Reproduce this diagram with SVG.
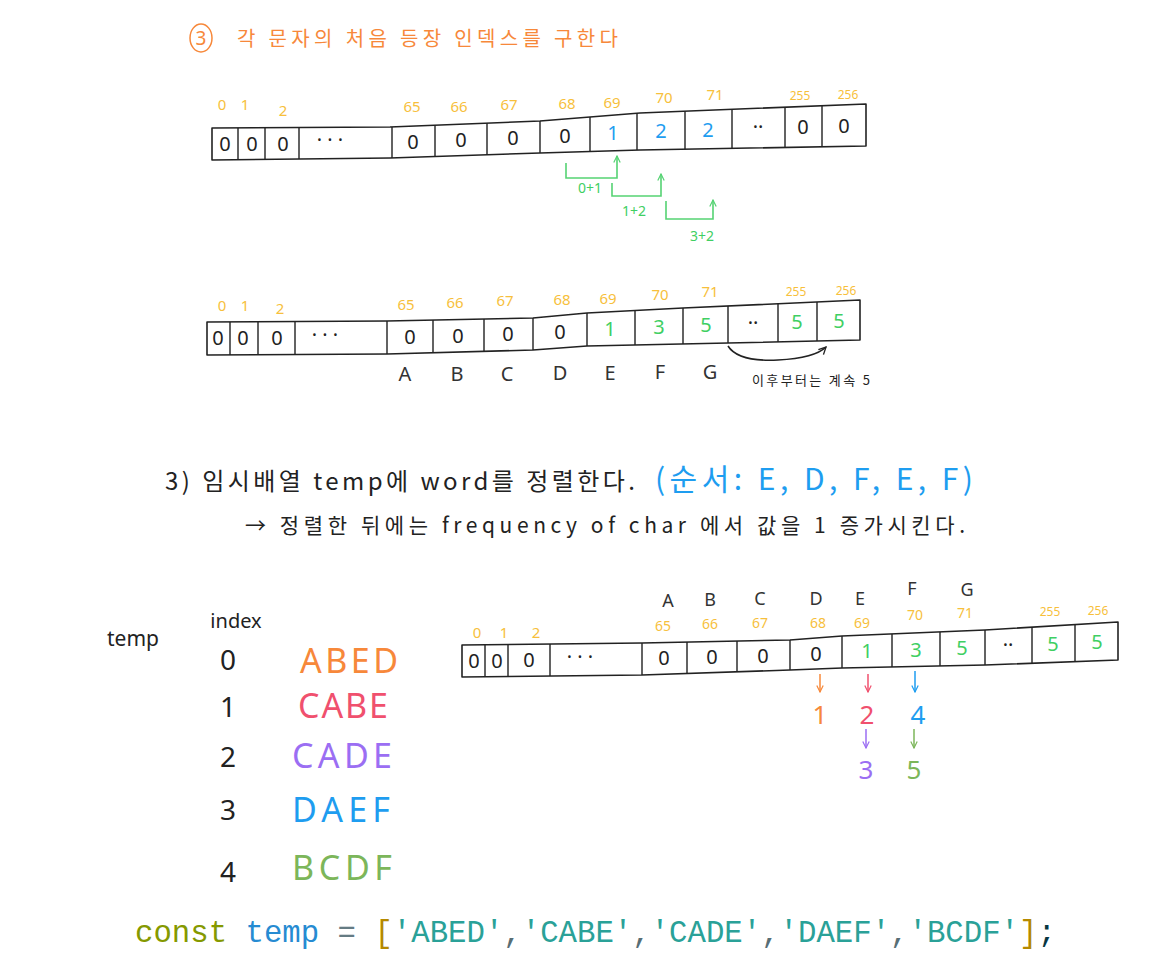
<svg xmlns="http://www.w3.org/2000/svg" width="1162" height="980" viewBox="0 0 1162 980">
<style>
text{font-family:"Noto Sans","Noto Sans CJK KR",sans-serif;}
.ko{font-family:"Noto Sans CJK KR","Noto Sans",sans-serif;}
.arr{fill:none;stroke:#222;stroke-width:1.6;stroke-linejoin:round;}
.div{stroke:#222;stroke-width:1.4;}
.cell{font-size:20px;fill:#222;text-anchor:middle;}
.idx{font-size:15px;fill:#f7bf3c;text-anchor:middle;}
.idx3{font-size:14px;}
.sm{font-size:12px;}
.let{font-size:20px;fill:#333;text-anchor:middle;}
.let3{font-size:18px;}
.g{fill:#3fcf63;}
.b{fill:#1e9df0;}
.gl{fill:none;stroke:#55d373;stroke-width:1.6;}
.code{font-family:"Liberation Mono",monospace;font-size:30.7px;}
.word{font-size:34px;}
</style>
<defs>
<marker id="mg" viewBox="0 0 10 10" refX="9" refY="5" markerWidth="8" markerHeight="8" orient="auto" markerUnits="userSpaceOnUse"><path d="M1,1 L9,5 L1,9" fill="none" stroke="#55d373" stroke-width="1.5"/></marker>
<marker id="mk" viewBox="0 0 10 10" refX="9" refY="5" markerWidth="9" markerHeight="9" orient="auto" markerUnits="userSpaceOnUse"><path d="M1,1 L9,5 L1,9" fill="none" stroke="#222" stroke-width="1.5"/></marker>
<marker id="mo" viewBox="0 0 10 10" refX="9" refY="5" markerWidth="8" markerHeight="8" orient="auto" markerUnits="userSpaceOnUse"><path d="M1,1 L9,5 L1,9" fill="none" stroke="#f7883a" stroke-width="1.5"/></marker>
<marker id="mr" viewBox="0 0 10 10" refX="9" refY="5" markerWidth="8" markerHeight="8" orient="auto" markerUnits="userSpaceOnUse"><path d="M1,1 L9,5 L1,9" fill="none" stroke="#f0506e" stroke-width="1.5"/></marker>
<marker id="mb" viewBox="0 0 10 10" refX="9" refY="5" markerWidth="8" markerHeight="8" orient="auto" markerUnits="userSpaceOnUse"><path d="M1,1 L9,5 L1,9" fill="none" stroke="#1e9df0" stroke-width="1.5"/></marker>
<marker id="mp" viewBox="0 0 10 10" refX="9" refY="5" markerWidth="8" markerHeight="8" orient="auto" markerUnits="userSpaceOnUse"><path d="M1,1 L9,5 L1,9" fill="none" stroke="#9b6ef3" stroke-width="1.5"/></marker>
<marker id="mv" viewBox="0 0 10 10" refX="9" refY="5" markerWidth="8" markerHeight="8" orient="auto" markerUnits="userSpaceOnUse"><path d="M1,1 L9,5 L1,9" fill="none" stroke="#7cb65a" stroke-width="1.5"/></marker>
</defs>
<rect width="1162" height="980" fill="#fff"/>

<g id="title">
<ellipse cx="201" cy="38" rx="11" ry="14" fill="none" stroke="#f7883a" stroke-width="1.5"/>
<text x="201" y="45" font-size="19" fill="#f7883a" text-anchor="middle">3</text>
<text class="ko" x="237" y="46" font-size="20" fill="#f7883a" textLength="381" lengthAdjust="spacing">각 문자의 처음 등장 인덱스를 구한다</text>
</g>

<g id="array1">
<path class="arr" d="M212,128 L390,127 L540,121 L640,113 L866,104 L866,146 L640,150 L540,153 L390,158 L212,160 Z"/>
<path class="div" d="M238,128V160 M265,127.8V159.6 M299,127.5V159.1 M392,127V158 M435,125.2V156.5 M487,123.2V154.8 M540,121V153 M590,117V151.5 M637,113.2V150.1 M685,111.2V149.2 M732,109.4V148.4 M785,107.3V147.5 M822,105.8V146.8"/>
<text class="cell" x="225" y="151">0</text><text class="cell" x="252" y="151">0</text><text class="cell" x="283" y="151">0</text>
<text class="cell" x="330" y="147">· · ·</text>
<text class="cell" x="413" y="149">0</text><text class="cell" x="461" y="147">0</text><text class="cell" x="513" y="145">0</text><text class="cell" x="565" y="143">0</text>
<text class="cell b" x="613" y="140">1</text><text class="cell b" x="661" y="138">2</text><text class="cell b" x="708" y="137">2</text>
<text class="cell" x="758" y="134">··</text>
<text class="cell" x="803" y="134">0</text><text class="cell" x="844" y="133">0</text>
<text class="idx" x="222" y="110">0</text><text class="idx" x="245" y="110">1</text><text class="idx" x="283" y="116">2</text>
<text class="idx" x="412" y="112">65</text><text class="idx" x="459" y="112">66</text><text class="idx" x="509" y="110">67</text><text class="idx" x="567" y="109">68</text><text class="idx" x="612" y="108">69</text><text class="idx" x="664" y="103">70</text><text class="idx" x="715" y="100">71</text><text class="idx sm" x="800" y="100">255</text><text class="idx sm" x="848" y="99">256</text>
</g>

<g id="connectors">
<path class="gl" d="M566,163 L566,178 L617,178 L617,156" marker-end="url(#mg)"/>
<path class="gl" d="M612,183 L612,196 L661,196 L661,174" marker-end="url(#mg)"/>
<path class="gl" d="M666,201 L666,219 L713,219 L713,200" marker-end="url(#mg)"/>
<path class="arr" d="M728,346 Q738,362 778,360 Q815,358 826,347" marker-end="url(#mk)"/>
<path fill="none" stroke="#f7883a" stroke-width="1.5" d="M820,674 V692" marker-end="url(#mo)"/>
<path fill="none" stroke="#f0506e" stroke-width="1.5" d="M868,674 V692" marker-end="url(#mr)"/>
<path fill="none" stroke="#1e9df0" stroke-width="1.5" d="M915,671 V692" marker-end="url(#mb)"/>
<path fill="none" stroke="#9b6ef3" stroke-width="1.5" d="M866,729 V748" marker-end="url(#mp)"/>
<path fill="none" stroke="#7cb65a" stroke-width="1.5" d="M914,729 V748" marker-end="url(#mv)"/>
</g>

<g id="sumlabels" font-size="14" fill="#3fcf63" text-anchor="middle">
<text x="590" y="193">0+1</text>
<text x="634" y="216">1+2</text>
<text x="702" y="241">3+2</text>
</g>

<g id="array2">
<path class="arr" d="M207,322 L387,321 L533,318 L587,313 L683,308 L860,300 L860,340 L728,343 L587,346 L533,350 L387,354 L207,355 Z"/>
<path class="div" d="M230,322V355 M258,322V355 M295,321.8V354.8 M387,321V354 M433,320.1V352.7 M484,319V351.3 M533,318V350 M587,313V346 M635,310.5V345 M683,308V344 M728,306V343 M778,303.7V342.1 M817,302V341.1"/>
<text class="cell" x="218" y="345">0</text><text class="cell" x="243" y="345">0</text><text class="cell" x="277" y="345">0</text>
<text class="cell" x="325" y="342">· · ·</text>
<text class="cell" x="410" y="344">0</text><text class="cell" x="458" y="343">0</text><text class="cell" x="508" y="341">0</text><text class="cell" x="560" y="339">0</text>
<text class="cell g" x="610" y="336">1</text><text class="cell g" x="659" y="334">3</text><text class="cell g" x="706" y="332">5</text>
<text class="cell" x="753" y="330">··</text>
<text class="cell g" x="797" y="329">5</text><text class="cell g" x="839" y="328">5</text>
<text class="idx" x="222" y="311">0</text><text class="idx" x="245" y="311">1</text><text class="idx" x="280" y="314">2</text>
<text class="idx" x="406" y="310">65</text><text class="idx" x="455" y="308">66</text><text class="idx" x="505" y="306">67</text><text class="idx" x="562" y="305">68</text><text class="idx" x="608" y="304">69</text><text class="idx" x="660" y="300">70</text><text class="idx" x="710" y="297">71</text><text class="idx sm" x="796" y="296">255</text><text class="idx sm" x="846" y="295">256</text>
<text class="let" x="405" y="381">A</text><text class="let" x="457" y="381">B</text><text class="let" x="507" y="381">C</text><text class="let" x="560" y="380">D</text><text class="let" x="610" y="380">E</text><text class="let" x="660" y="379">F</text><text class="let" x="710" y="379">G</text>
<text class="ko" x="752" y="385" font-size="13" fill="#222" textLength="118" lengthAdjust="spacing">이후부터는 계속 5</text>
</g>

<g id="step3">
<text class="ko" x="165" y="490" font-size="24" fill="#222" textLength="470" lengthAdjust="spacing">3) 임시배열 temp에 word를 정렬한다.</text>
<text class="ko" x="655" y="490" font-size="30" fill="#1e9df0" textLength="318" lengthAdjust="spacing">(순서: E, D, F, E, F)</text>
<text class="ko" x="245" y="533" font-size="21" fill="#222" textLength="720" lengthAdjust="spacing">→ 정렬한 뒤에는 frequency of char 에서 값을 1 증가시킨다.</text>
</g>

<g id="temp-table">
<text x="107" y="646" font-size="21" fill="#222">temp</text>
<text x="236" y="628" font-size="20" fill="#222" text-anchor="middle">index</text>
<g font-size="28" fill="#222" text-anchor="middle">
<text x="228" y="670">0</text><text x="228" y="717">1</text><text x="228" y="767">2</text><text x="228" y="820">3</text><text x="228" y="882">4</text>
</g>
<text class="word" x="300" y="673" fill="#f7883a" textLength="98" lengthAdjust="spacing">ABED</text>
<text class="word" x="298" y="718" fill="#f0506e" textLength="90" lengthAdjust="spacing">CABE</text>
<text class="word" x="292" y="768" fill="#9b6ef3" textLength="100" lengthAdjust="spacing">CADE</text>
<text class="word" x="292" y="822" fill="#1e9df0" textLength="98" lengthAdjust="spacing">DAEF</text>
<text class="word" x="292" y="880" fill="#7cb65a" textLength="100" lengthAdjust="spacing">BCDF</text>
</g>

<g id="array3">
<path class="arr" d="M462,645 L642,643 L790,640 L842,636 L985,630 L1118,622 L1118,660 L985,665 L842,668 L790,670 L642,675 L462,677 Z"/>
<path class="div" d="M485,645V677 M508,645V677 M550,644V676 M642,643V675 M687,642.1V673.5 M737,641.1V671.8 M790,640V670 M842,636V668 M892,633.9V667 M940,631.9V666 M985,630V665 M1032,627.2V663.2 M1075,624.6V661.6"/>
<text class="cell" x="474" y="668">0</text><text class="cell" x="497" y="668">0</text><text class="cell" x="529" y="667">0</text>
<text class="cell" x="580" y="664">· · ·</text>
<text class="cell" x="664" y="665">0</text><text class="cell" x="712" y="664">0</text><text class="cell" x="763" y="663">0</text><text class="cell" x="816" y="661">0</text>
<text class="cell g" x="867" y="658">1</text><text class="cell g" x="916" y="657">3</text><text class="cell g" x="962" y="655">5</text>
<text class="cell" x="1008" y="652">··</text>
<text class="cell g" x="1053" y="651">5</text><text class="cell g" x="1097" y="649">5</text>
<text class="idx" x="477" y="638">0</text><text class="idx" x="504" y="638">1</text><text class="idx" x="536" y="638">2</text>
<text class="idx idx3" x="663" y="631">65</text><text class="idx idx3" x="710" y="629">66</text><text class="idx idx3" x="760" y="628">67</text><text class="idx idx3" x="818" y="628">68</text><text class="idx idx3" x="862" y="628">69</text><text class="idx idx3" x="915" y="620">70</text><text class="idx idx3" x="965" y="618">71</text><text class="idx sm" x="1050" y="616">255</text><text class="idx sm" x="1098" y="615">256</text>
<text class="let let3" x="668" y="607">A</text><text class="let let3" x="710" y="606">B</text><text class="let let3" x="760" y="605">C</text><text class="let let3" x="816" y="605">D</text><text class="let let3" x="860" y="605">E</text><text class="let let3" x="912" y="595">F</text><text class="let let3" x="967" y="596">G</text>
</g>

<g id="increments" font-size="26" text-anchor="middle">
<text x="820" y="724" fill="#f7883a">1</text>
<text x="867" y="724" fill="#f0506e">2</text>
<text x="918" y="724" fill="#1e9df0">4</text>
<text x="866" y="779" fill="#9b6ef3">3</text>
<text x="914" y="779" fill="#7cb65a">5</text>
</g>

<g id="code">
<text class="code" x="135" y="942"><tspan fill="#859900">const</tspan><tspan fill="#268bd2"> temp</tspan><tspan fill="#657b83"> = </tspan><tspan fill="#b58900">[</tspan><tspan fill="#2aa198">'ABED'</tspan><tspan fill="#586e75">,</tspan><tspan fill="#2aa198">'CABE'</tspan><tspan fill="#586e75">,</tspan><tspan fill="#2aa198">'CADE'</tspan><tspan fill="#586e75">,</tspan><tspan fill="#2aa198">'DAEF'</tspan><tspan fill="#586e75">,</tspan><tspan fill="#2aa198">'BCDF'</tspan><tspan fill="#b58900">]</tspan><tspan fill="#073642">;</tspan></text>
</g>
</svg>
